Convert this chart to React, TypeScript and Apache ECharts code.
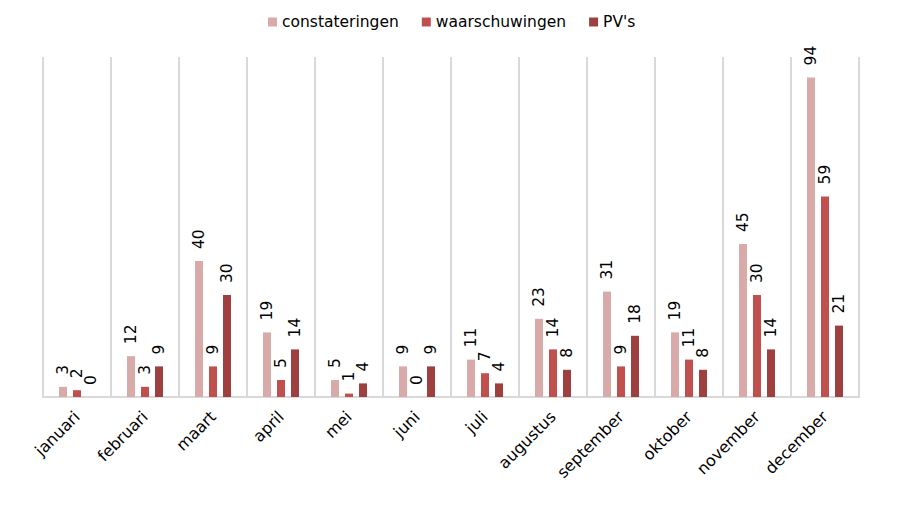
import React, { useEffect, useRef } from "react";
import * as echarts from "echarts";

const months = ["januari", "februari", "maart", "april", "mei", "juni", "juli", "augustus", "september", "oktober", "november", "december"];
const constateringen = [3, 12, 40, 19, 5, 9, 11, 23, 31, 19, 45, 94];
const waarschuwingen = [2, 3, 9, 5, 1, 0, 7, 14, 9, 11, 30, 59];
const pvs = [0, 9, 30, 14, 4, 9, 4, 8, 18, 8, 14, 21];
const seriesNames = ["constateringen", "waarschuwingen", "PV's"];
const colors = ["#D9AAAA", "#C0504D", "#9E4040"];

const FONT = "DejaVu Sans, Verdana, sans-serif";

export default function App() {
  const ref = useRef<HTMLDivElement>(null);
  useEffect(() => {
    const chart = echarts.init(ref.current!, undefined, { renderer: "svg" });
    const data = [constateringen, waarschuwingen, pvs];
    chart.setOption({
      animation: false,
      legend: {
        top: 1,
        left: 255,
        itemWidth: 9,
        itemHeight: 9,
        itemGap: 23,
        icon: "rect",
        textStyle: { fontFamily: FONT, fontSize: 15.5, color: "#000" },
        data: seriesNames,
      },
      grid: { left: 35, right: 56, top: 49, bottom: 100, containLabel: false },
      xAxis: {
        type: "category",
        data: months,
        boundaryGap: true,
        axisLine: { lineStyle: { color: "#D9D9D9", width: 2 } },
        axisTick: { show: false },
        splitLine: { show: true, lineStyle: { color: "#D9D9D9", width: 2 } },
        axisLabel: {
          rotate: 45,
          fontFamily: FONT,
          fontSize: 16,
          color: "#000",
          margin: 17,
          interval: 0,
        },
      },
      yAxis: {
        type: "value",
        min: 0,
        max: 100,
        show: false,
        splitLine: { show: false },
      },
      series: data.map((d, i) => ({
        name: seriesNames[i],
        type: "bar",
        data: d,
        barWidth: 8,
        barGap: "75%",
        itemStyle: { color: colors[i] },
        label: {
          show: true,
          position: "top",
          rotate: 90,
          align: "left",
          verticalAlign: "middle",
          distance: 12,
          fontFamily: FONT,
          fontSize: 15.5,
          color: "#000",
        },
      })),
    });
    return () => chart.dispose();
  }, []);
  return <div ref={ref} style={{ width: 907, height: 489 }} />;
}
